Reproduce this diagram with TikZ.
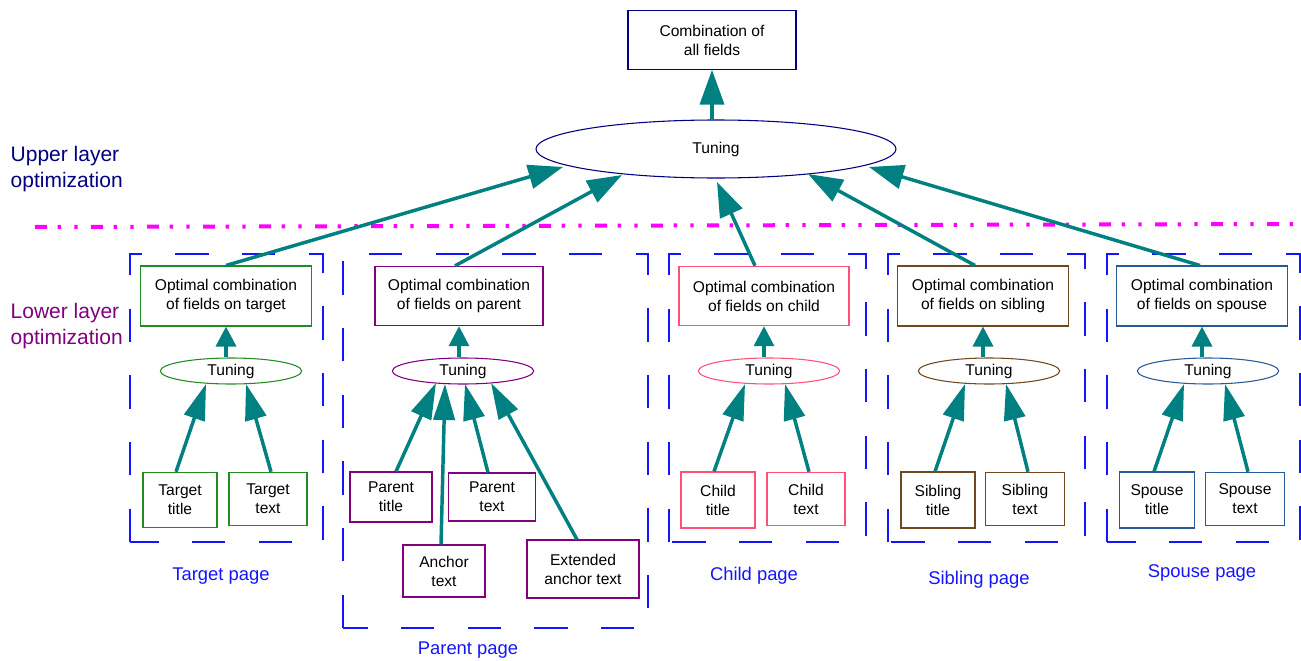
\documentclass[tikz,border=0pt]{standalone}
\usepackage{fontspec}
\setmainfont{Liberation Sans}
\usetikzlibrary{shapes.geometric,arrows.meta,calc}
\definecolor{tealA}{RGB}{0,128,128}
\definecolor{navyA}{RGB}{0,0,128}
\definecolor{grnA}{RGB}{34,139,34}
\definecolor{purA}{RGB}{128,0,128}
\definecolor{pinkA}{RGB}{255,80,120}
\definecolor{brnA}{RGB}{112,72,32}
\definecolor{spsA}{RGB}{40,90,150}
\definecolor{pgblue}{RGB}{20,20,255}
\definecolor{magA}{RGB}{255,0,255}
\begin{document}
\begin{tikzpicture}[x=0.75pt,y=-0.75pt,
  box/.style={draw,rectangle,inner sep=0pt,align=center,font=\fontsize{11.7}{14.25}\selectfont,line width=0.8pt},
  tun/.style={draw,ellipse,inner sep=0pt,minimum width=106pt,minimum height=19.5pt,font=\fontsize{11.7}{14.25}\selectfont,line width=0.8pt},
  arrbig/.style={tealA,line width=2.6pt,-{Triangle[length=26pt,width=18pt]}},
  arrsub/.style={tealA,line width=2.6pt,-{Triangle[length=27pt,width=16pt]}},
  arrsm/.style={tealA,line width=2.6pt,-{Triangle[length=15pt,width=15pt]}},
  pagebox/.style={pgblue,line width=0.9pt,dash pattern=on 25pt off 25pt},
  pagelbl/.style={pgblue,font=\fontsize{13.8}{16}\selectfont},
  layerlbl/.style={anchor=west,align=left,font=\fontsize{15.75}{20}\selectfont}
]
\useasboundingbox (0,0) rectangle (1301,660);

% separator
\draw[magA,line width=3pt,dash pattern=on 9pt off 8pt on 2.5pt off 10pt on 2.5pt off 10pt] (35,227) -- (1298,224);

% page boxes
\draw[pagebox] (130,542) -- (130,254) -- (323,254) -- (323,542) -- cycle;
\draw[pagebox] (343,628) -- (343,254) -- (648,254) -- (648,628) -- cycle;
\draw[pagebox] (669,542) -- (669,254) -- (866,254) -- (866,542) -- cycle;
\draw[pagebox] (888,542) -- (888,254) -- (1085,254) -- (1085,542) -- cycle;
\draw[pagebox] (1107,542) -- (1107,254) -- (1300,254) -- (1300,542) -- cycle;

% layer labels
\node[layerlbl,navyA] (upper) at (6,169) {Upper layer\\optimization};
\node[layerlbl,purA] (lower) at (6,326) {Lower layer\\optimization};

% top
\node[box,draw=navyA,minimum width=126pt,minimum height=44pt] (top) at (712,40) {Combination of\\all fields};
\node[tun,draw=navyA,minimum width=270pt,minimum height=43.5pt] (bigT) at (716,149) {Tuning};

% target
\node[box,draw=grnA,minimum width=128pt,minimum height=45pt] (optT) at (226,296) {Optimal combination\\of fields on target};
\node[tun,draw=grnA] (tunT) at (231,371) {Tuning};
\node[box,draw=grnA,minimum width=55.5pt,minimum height=41.5pt] (ttT) at (180,500) {Target\\title};
\node[box,draw=grnA,minimum width=58.5pt,minimum height=40pt] (txT) at (268,499) {Target\\text};

% parent
\node[box,draw=purA,minimum width=126pt,minimum height=44.5pt] (optP) at (459,296) {Optimal combination\\of fields on parent};
\node[tun,draw=purA] (tunP) at (463,371) {Tuning};
\node[box,draw=purA,minimum width=61.5pt,minimum height=37.5pt] (ptP) at (391,497) {Parent\\title};
\node[box,draw=purA,minimum width=65pt,minimum height=36pt] (pxP) at (492,497) {Parent\\text};
\node[box,draw=purA,minimum width=61.5pt,minimum height=39pt] (anP) at (444,571) {Anchor\\text};
\node[box,draw=purA,minimum width=84pt,minimum height=43.5pt] (exP) at (583,569) {Extended\\anchor text};

% child
\node[box,draw=pinkA,minimum width=127.5pt,minimum height=44.5pt] (optC) at (764,296) {Optimal combination\\of fields on child};
\node[tun,draw=pinkA] (tunC) at (769,371) {Tuning};
\node[box,draw=pinkA,minimum width=55.5pt,minimum height=42pt] (ctC) at (718,500) {Child\\title};
\node[box,draw=pinkA,minimum width=58.5pt,minimum height=40pt] (cxC) at (806,499) {Child\\text};

% sibling
\node[box,draw=brnA,minimum width=128pt,minimum height=45pt] (optS) at (983,296) {Optimal combination\\of fields on sibling};
\node[tun,draw=brnA] (tunS) at (989,371) {Tuning};
\node[box,draw=brnA,minimum width=55.5pt,minimum height=42pt] (stS) at (938,500) {Sibling\\title};
\node[box,draw=brnA,minimum width=59pt,minimum height=40pt] (sxS) at (1025,499) {Sibling\\text};

% spouse
\node[box,draw=spsA,minimum width=128pt,minimum height=45pt] (optO) at (1202,296) {Optimal combination\\of fields on spouse};
\node[tun,draw=spsA] (tunO) at (1208,371) {Tuning};
\node[box,draw=spsA,minimum width=56pt,minimum height=42pt] (otO) at (1157,500) {Spouse\\title};
\node[box,draw=spsA,minimum width=59pt,minimum height=40pt] (oxO) at (1245,499) {Spouse\\text};

% page labels
\node[pagelbl] (lT) at (221,576) {Target page};
\node[pagelbl] (lP) at (468,650) {Parent page};
\node[pagelbl] (lC) at (754,576) {Child page};
\node[pagelbl] (lS) at (979,580) {Sibling page};
\node[pagelbl] (lO) at (1202,573) {Spouse page};

% upper arrows
\draw[arrbig] (top.south |- bigT.north) -- (top.south);
\draw[arrbig] (optT.north) -- ($(bigT.center)+(-153,18)$);
\draw[arrbig] ($(optP.north)+(-4,0)$) -- ($(bigT.center)+(-94,26)$);
\draw[arrbig] ($(optC.north)+(-9,0)$) -- ($(bigT.center)+(1,33)$);
\draw[arrbig] ($(optS.north)+(-8,0)$) -- ($(bigT.center)+(92,25)$);
\draw[arrbig] ($(optO.north)+(-2,0)$) -- ($(bigT.center)+(153,18)$);

% small arrows
\draw[arrsm] (optT.south |- tunT.north) -- (optT.south);
\draw[arrsm] (optP.south |- tunP.north) -- (optP.south);
\draw[arrsm] (optC.south |- tunC.north) -- (optC.south);
\draw[arrsm] (optS.south |- tunS.north) -- (optS.south);
\draw[arrsm] (optO.south |- tunO.north) -- (optO.south);

% sub arrows
\draw[arrsub] ($(ttT.north)+(-4,0)$) -- ($(tunT.center)+(-25,13)$);
\draw[arrsub] ($(txT.north)+(3,0)$) -- ($(tunT.center)+(15,13)$);
\draw[arrsub] ($(ptP.north)+(5,0)$) -- ($(tunP.center)+(-27,12)$);
\draw[arrsub] ($(anP.north)+(-3,0)$) -- ($(tunP.center)+(-18,13)$);
\draw[arrsub] ($(pxP.north)+(-4,0)$) -- ($(tunP.center)+(2,13)$);
\draw[arrsub] ($(exP.north)+(-6,0)$) -- ($(tunP.center)+(28,12)$);
\draw[arrsub] ($(ctC.north)+(-4,0)$) -- ($(tunC.center)+(-24,13)$);
\draw[arrsub] ($(cxC.north)+(3,0)$) -- ($(tunC.center)+(16,13)$);
\draw[arrsub] ($(stS.north)+(-3,0)$) -- ($(tunS.center)+(-24,13)$);
\draw[arrsub] ($(sxS.north)+(3,0)$) -- ($(tunS.center)+(17,13)$);
\draw[arrsub] ($(otO.north)+(-3,0)$) -- ($(tunO.center)+(-24,13)$);
\draw[arrsub] ($(oxO.north)+(3,0)$) -- ($(tunO.center)+(17,13)$);
\end{tikzpicture}
\end{document}
